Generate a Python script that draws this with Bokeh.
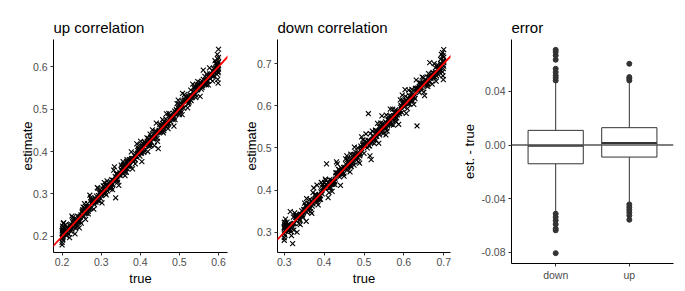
from bokeh.plotting import figure
from bokeh.layouts import row
from bokeh.models import Range1d, FixedTicker, NumeralTickFormatter, Slope, Span, ColumnDataSource
from bokeh.embed import file_html
from bokeh.resources import INLINE

# ---------------- data: up correlation ----------------
up_true = [0.203, 0.217, 0.209, 0.212, 0.201, 0.219, 0.206, 0.214, 0.210, 0.204,
           0.235, 0.222, 0.231, 0.227, 0.238, 0.225, 0.233, 0.220, 0.236, 0.228,
           0.243, 0.257, 0.249, 0.252, 0.241, 0.259, 0.246, 0.254, 0.250, 0.244,
           0.275, 0.262, 0.271, 0.267, 0.278, 0.265, 0.273, 0.260, 0.276, 0.268,
           0.283, 0.297, 0.289, 0.292, 0.281, 0.299, 0.286, 0.294, 0.290, 0.284,
           0.315, 0.302, 0.311, 0.307, 0.318, 0.305, 0.313, 0.300, 0.316, 0.308,
           0.323, 0.337, 0.329, 0.332, 0.321, 0.339, 0.326, 0.334, 0.330, 0.324,
           0.355, 0.342, 0.351, 0.347, 0.358, 0.345, 0.353, 0.340, 0.356, 0.348,
           0.363, 0.377, 0.369, 0.372, 0.361, 0.379, 0.366, 0.374, 0.370, 0.364,
           0.395, 0.382, 0.391, 0.387, 0.398, 0.385, 0.393, 0.380, 0.396, 0.388,
           0.403, 0.417, 0.409, 0.412, 0.401, 0.419, 0.406, 0.414, 0.410, 0.404,
           0.435, 0.422, 0.431, 0.427, 0.438, 0.425, 0.433, 0.420, 0.436, 0.428,
           0.443, 0.457, 0.449, 0.452, 0.441, 0.459, 0.446, 0.454, 0.450, 0.444,
           0.475, 0.462, 0.471, 0.467, 0.478, 0.465, 0.473, 0.460, 0.476, 0.468,
           0.483, 0.497, 0.489, 0.492, 0.481, 0.499, 0.486, 0.494, 0.490, 0.484,
           0.515, 0.502, 0.511, 0.507, 0.518, 0.505, 0.513, 0.500, 0.516, 0.508,
           0.523, 0.537, 0.529, 0.532, 0.521, 0.539, 0.526, 0.534, 0.530, 0.524,
           0.555, 0.542, 0.551, 0.547, 0.558, 0.545, 0.553, 0.540, 0.556, 0.548,
           0.563, 0.577, 0.569, 0.572, 0.561, 0.579, 0.566, 0.574, 0.570, 0.564,
           0.595, 0.582, 0.591, 0.587, 0.598, 0.585, 0.593, 0.580, 0.596, 0.588,
           0.600, 0.599, 0.600, 0.598, 0.600, 0.597, 0.600, 0.599, 0.600, 0.598,
           0.200, 0.201, 0.200, 0.202, 0.200, 0.201, 0.203, 0.200, 0.202, 0.201,
           0.208, 0.201, 0.213, 0.219, 0.205, 0.211, 0.216, 0.203, 0.207, 0.218,
           0.228, 0.221, 0.233, 0.239, 0.225, 0.231, 0.236, 0.223, 0.227, 0.238,
           0.248, 0.241, 0.253, 0.259, 0.245, 0.251, 0.256, 0.243, 0.247, 0.258,
           0.268, 0.261, 0.273, 0.279, 0.265, 0.271, 0.276, 0.263, 0.267, 0.278,
           0.288, 0.281, 0.293, 0.299, 0.285, 0.291, 0.296, 0.283, 0.287, 0.298,
           0.308, 0.301, 0.313, 0.319, 0.305, 0.311, 0.316, 0.303, 0.307, 0.318,
           0.328, 0.321, 0.333, 0.339, 0.325, 0.331, 0.336, 0.323, 0.327, 0.338,
           0.348, 0.341, 0.353, 0.359, 0.345, 0.351, 0.356, 0.343, 0.347, 0.358,
           0.368, 0.361, 0.373, 0.379, 0.365, 0.371, 0.376, 0.363, 0.367, 0.378,
           0.388, 0.381, 0.393, 0.399, 0.385, 0.391, 0.396, 0.383, 0.387, 0.398,
           0.408, 0.401, 0.413, 0.419, 0.405, 0.411, 0.416, 0.403, 0.407, 0.418,
           0.428, 0.421, 0.433, 0.439, 0.425, 0.431, 0.436, 0.423, 0.427, 0.438,
           0.448, 0.441, 0.453, 0.459, 0.445, 0.451, 0.456, 0.443, 0.447, 0.458,
           0.468, 0.461, 0.473, 0.479, 0.465, 0.471, 0.476, 0.463, 0.467, 0.478,
           0.488, 0.481, 0.493, 0.499, 0.485, 0.491, 0.496, 0.483, 0.487, 0.498,
           0.508, 0.501, 0.513, 0.519, 0.505, 0.511, 0.516, 0.503, 0.507, 0.518,
           0.528, 0.521, 0.533, 0.539, 0.525, 0.531, 0.536, 0.523, 0.527, 0.538,
           0.548, 0.541, 0.553, 0.559, 0.545, 0.551, 0.556, 0.543, 0.547, 0.558,
           0.568, 0.561, 0.573, 0.579, 0.565, 0.571, 0.576, 0.563, 0.567, 0.578,
           0.588, 0.581, 0.593, 0.599, 0.585, 0.591, 0.596, 0.583, 0.587, 0.598]
up_est = [0.207, 0.205, 0.228, 0.209, 0.210, 0.197, 0.220, 0.208, 0.211, 0.232,
          0.219, 0.229, 0.229, 0.244, 0.229, 0.248, 0.206, 0.225, 0.223, 0.239,
          0.242, 0.277, 0.231, 0.260, 0.236, 0.262, 0.236, 0.269, 0.250, 0.220,
          0.287, 0.255, 0.297, 0.253, 0.284, 0.264, 0.291, 0.240, 0.286, 0.270,
          0.275, 0.310, 0.285, 0.313, 0.264, 0.306, 0.286, 0.283, 0.315, 0.281,
          0.331, 0.279, 0.320, 0.301, 0.321, 0.319, 0.298, 0.301, 0.307, 0.327,
          0.321, 0.291, 0.310, 0.356, 0.316, 0.347, 0.314, 0.364, 0.323, 0.328,
          0.361, 0.328, 0.368, 0.346, 0.370, 0.320, 0.355, 0.332, 0.376, 0.344,
          0.353, 0.399, 0.366, 0.381, 0.343, 0.384, 0.381, 0.368, 0.370, 0.351,
          0.408, 0.377, 0.418, 0.371, 0.405, 0.383, 0.403, 0.359, 0.414, 0.389,
          0.396, 0.432, 0.398, 0.416, 0.424, 0.400, 0.412, 0.413, 0.422, 0.376,
          0.437, 0.413, 0.451, 0.414, 0.446, 0.441, 0.429, 0.431, 0.414, 0.433,
          0.431, 0.475, 0.449, 0.446, 0.467, 0.444, 0.407, 0.451, 0.464, 0.424,
          0.485, 0.461, 0.454, 0.489, 0.470, 0.468, 0.490, 0.449, 0.482, 0.463,
          0.479, 0.521, 0.475, 0.499, 0.479, 0.511, 0.460, 0.513, 0.491, 0.475,
          0.530, 0.496, 0.519, 0.487, 0.529, 0.502, 0.534, 0.487, 0.520, 0.537,
          0.514, 0.540, 0.545, 0.527, 0.503, 0.552, 0.525, 0.559, 0.520, 0.530,
          0.562, 0.527, 0.553, 0.565, 0.551, 0.555, 0.530, 0.554, 0.554, 0.557,
          0.560, 0.597, 0.557, 0.577, 0.592, 0.571, 0.567, 0.557, 0.582, 0.558,
          0.606, 0.578, 0.614, 0.577, 0.604, 0.566, 0.608, 0.580, 0.582, 0.596,
          0.641, 0.586, 0.622, 0.570, 0.611, 0.629, 0.594, 0.561, 0.603, 0.618,
          0.186, 0.224, 0.197, 0.215, 0.180, 0.207, 0.231, 0.213, 0.192, 0.219,
          0.211, 0.196, 0.221, 0.218, 0.211, 0.202, 0.218, 0.199, 0.218, 0.218,
          0.222, 0.225, 0.231, 0.248, 0.217, 0.232, 0.241, 0.212, 0.234, 0.235,
          0.250, 0.234, 0.263, 0.255, 0.245, 0.257, 0.247, 0.246, 0.246, 0.266,
          0.265, 0.270, 0.267, 0.280, 0.277, 0.266, 0.280, 0.261, 0.259, 0.283,
          0.295, 0.280, 0.296, 0.289, 0.290, 0.287, 0.304, 0.283, 0.281, 0.300,
          0.311, 0.296, 0.321, 0.318, 0.311, 0.302, 0.318, 0.299, 0.318, 0.318,
          0.322, 0.325, 0.331, 0.348, 0.317, 0.332, 0.341, 0.312, 0.334, 0.335,
          0.350, 0.334, 0.363, 0.355, 0.345, 0.357, 0.347, 0.346, 0.346, 0.366,
          0.365, 0.370, 0.367, 0.380, 0.377, 0.366, 0.380, 0.361, 0.359, 0.383,
          0.395, 0.380, 0.396, 0.389, 0.390, 0.387, 0.404, 0.383, 0.381, 0.400,
          0.411, 0.396, 0.421, 0.418, 0.411, 0.402, 0.418, 0.399, 0.418, 0.418,
          0.422, 0.425, 0.431, 0.448, 0.417, 0.432, 0.441, 0.412, 0.434, 0.435,
          0.450, 0.434, 0.463, 0.455, 0.445, 0.457, 0.447, 0.446, 0.446, 0.466,
          0.465, 0.470, 0.467, 0.480, 0.477, 0.466, 0.480, 0.461, 0.459, 0.483,
          0.495, 0.480, 0.496, 0.489, 0.490, 0.487, 0.504, 0.483, 0.481, 0.500,
          0.511, 0.496, 0.521, 0.518, 0.511, 0.502, 0.518, 0.499, 0.518, 0.518,
          0.522, 0.525, 0.531, 0.548, 0.517, 0.532, 0.541, 0.512, 0.534, 0.535,
          0.550, 0.534, 0.563, 0.555, 0.545, 0.557, 0.547, 0.546, 0.546, 0.566,
          0.565, 0.570, 0.567, 0.580, 0.577, 0.566, 0.580, 0.561, 0.559, 0.583,
          0.595, 0.580, 0.596, 0.589, 0.590, 0.587, 0.604, 0.583, 0.581, 0.600]

# ---------------- data: down correlation ----------------
down_true = [0.315, 0.302, 0.311, 0.307, 0.318, 0.305, 0.313, 0.300, 0.316, 0.308,
             0.323, 0.337, 0.329, 0.332, 0.321, 0.339, 0.326, 0.334, 0.330, 0.324,
             0.355, 0.342, 0.351, 0.347, 0.358, 0.345, 0.353, 0.340, 0.356, 0.348,
             0.363, 0.377, 0.369, 0.372, 0.361, 0.379, 0.366, 0.374, 0.370, 0.364,
             0.395, 0.382, 0.391, 0.387, 0.398, 0.385, 0.393, 0.380, 0.396, 0.388,
             0.403, 0.417, 0.409, 0.412, 0.401, 0.419, 0.406, 0.414, 0.410, 0.404,
             0.435, 0.422, 0.431, 0.427, 0.438, 0.425, 0.433, 0.420, 0.436, 0.428,
             0.443, 0.457, 0.449, 0.452, 0.441, 0.459, 0.446, 0.454, 0.450, 0.444,
             0.475, 0.462, 0.471, 0.467, 0.478, 0.465, 0.473, 0.460, 0.476, 0.468,
             0.483, 0.497, 0.489, 0.492, 0.481, 0.499, 0.486, 0.494, 0.490, 0.484,
             0.515, 0.502, 0.511, 0.507, 0.518, 0.505, 0.513, 0.500, 0.516, 0.508,
             0.523, 0.537, 0.529, 0.532, 0.521, 0.539, 0.526, 0.534, 0.530, 0.524,
             0.555, 0.542, 0.551, 0.547, 0.558, 0.545, 0.553, 0.540, 0.556, 0.548,
             0.563, 0.577, 0.569, 0.572, 0.561, 0.579, 0.566, 0.574, 0.570, 0.564,
             0.595, 0.582, 0.591, 0.587, 0.598, 0.585, 0.593, 0.580, 0.596, 0.588,
             0.603, 0.617, 0.609, 0.612, 0.601, 0.619, 0.606, 0.614, 0.610, 0.604,
             0.635, 0.622, 0.631, 0.627, 0.638, 0.625, 0.633, 0.620, 0.636, 0.628,
             0.643, 0.657, 0.649, 0.652, 0.641, 0.659, 0.646, 0.654, 0.650, 0.644,
             0.675, 0.662, 0.671, 0.667, 0.678, 0.665, 0.673, 0.660, 0.676, 0.668,
             0.683, 0.697, 0.689, 0.692, 0.681, 0.699, 0.686, 0.694, 0.690, 0.684,
             0.700, 0.699, 0.700, 0.698, 0.700, 0.697, 0.700, 0.699, 0.700, 0.698,
             0.300, 0.301, 0.300, 0.302, 0.300, 0.301, 0.303, 0.300, 0.302, 0.301,
             0.304, 0.312, 0.300, 0.317, 0.309, 0.306, 0.314, 0.302, 0.319, 0.310,
             0.324, 0.332, 0.320, 0.337, 0.329, 0.326, 0.334, 0.322, 0.339, 0.330,
             0.344, 0.352, 0.340, 0.357, 0.349, 0.346, 0.354, 0.342, 0.359, 0.350,
             0.364, 0.372, 0.360, 0.377, 0.369, 0.366, 0.374, 0.362, 0.379, 0.370,
             0.384, 0.392, 0.380, 0.397, 0.389, 0.386, 0.394, 0.382, 0.399, 0.390,
             0.404, 0.412, 0.400, 0.417, 0.409, 0.406, 0.414, 0.402, 0.419, 0.410,
             0.424, 0.432, 0.420, 0.437, 0.429, 0.426, 0.434, 0.422, 0.439, 0.430,
             0.444, 0.452, 0.440, 0.457, 0.449, 0.446, 0.454, 0.442, 0.459, 0.450,
             0.464, 0.472, 0.460, 0.477, 0.469, 0.466, 0.474, 0.462, 0.479, 0.470,
             0.484, 0.492, 0.480, 0.497, 0.489, 0.486, 0.494, 0.482, 0.499, 0.490,
             0.504, 0.512, 0.500, 0.517, 0.509, 0.506, 0.514, 0.502, 0.519, 0.510,
             0.524, 0.532, 0.520, 0.537, 0.529, 0.526, 0.534, 0.522, 0.539, 0.530,
             0.544, 0.552, 0.540, 0.557, 0.549, 0.546, 0.554, 0.542, 0.559, 0.550,
             0.564, 0.572, 0.560, 0.577, 0.569, 0.566, 0.574, 0.562, 0.579, 0.570,
             0.584, 0.592, 0.580, 0.597, 0.589, 0.586, 0.594, 0.582, 0.599, 0.590,
             0.604, 0.612, 0.600, 0.617, 0.609, 0.606, 0.614, 0.602, 0.619, 0.610,
             0.624, 0.632, 0.620, 0.637, 0.629, 0.626, 0.634, 0.622, 0.639, 0.630,
             0.644, 0.652, 0.640, 0.657, 0.649, 0.646, 0.654, 0.642, 0.659, 0.650,
             0.664, 0.672, 0.660, 0.677, 0.669, 0.666, 0.674, 0.662, 0.679, 0.670,
             0.684, 0.692, 0.680, 0.697, 0.689, 0.686, 0.694, 0.682, 0.699, 0.690]
down_est = [0.349, 0.303, 0.304, 0.324, 0.292, 0.316, 0.309, 0.323, 0.302, 0.313,
            0.336, 0.321, 0.335, 0.300, 0.273, 0.328, 0.346, 0.332, 0.338, 0.305,
            0.326, 0.342, 0.369, 0.335, 0.362, 0.339, 0.363, 0.318, 0.380, 0.347,
            0.365, 0.389, 0.345, 0.394, 0.360, 0.386, 0.349, 0.405, 0.362, 0.378,
            0.391, 0.412, 0.378, 0.387, 0.406, 0.365, 0.418, 0.375, 0.412, 0.378,
            0.426, 0.406, 0.410, 0.394, 0.418, 0.423, 0.462, 0.425, 0.382, 0.423,
            0.440, 0.414, 0.467, 0.413, 0.448, 0.419, 0.462, 0.397, 0.449, 0.426,
            0.438, 0.481, 0.439, 0.454, 0.411, 0.473, 0.445, 0.474, 0.433, 0.451,
            0.459, 0.462, 0.464, 0.485, 0.484, 0.443, 0.484, 0.456, 0.502, 0.456,
            0.484, 0.519, 0.464, 0.504, 0.479, 0.507, 0.467, 0.526, 0.484, 0.500,
            0.481, 0.516, 0.581, 0.514, 0.472, 0.533, 0.518, 0.487, 0.534, 0.500,
            0.529, 0.511, 0.542, 0.527, 0.540, 0.549, 0.510, 0.558, 0.519, 0.526,
            0.531, 0.559, 0.547, 0.558, 0.540, 0.576, 0.546, 0.540, 0.578, 0.534,
            0.557, 0.584, 0.556, 0.592, 0.565, 0.569, 0.592, 0.554, 0.569, 0.576,
            0.584, 0.583, 0.614, 0.556, 0.612, 0.583, 0.601, 0.563, 0.625, 0.583,
            0.638, 0.622, 0.593, 0.637, 0.597, 0.632, 0.582, 0.624, 0.603, 0.622,
            0.642, 0.610, 0.661, 0.626, 0.654, 0.603, 0.552, 0.639, 0.640, 0.617,
            0.654, 0.655, 0.666, 0.624, 0.653, 0.651, 0.668, 0.656, 0.632, 0.652,
            0.668, 0.676, 0.651, 0.668, 0.668, 0.702, 0.679, 0.646, 0.700, 0.664,
            0.693, 0.680, 0.689, 0.710, 0.658, 0.706, 0.674, 0.722, 0.685, 0.697,
            0.733, 0.688, 0.715, 0.671, 0.706, 0.726, 0.694, 0.662, 0.702, 0.719,
            0.287, 0.324, 0.296, 0.315, 0.281, 0.309, 0.331, 0.312, 0.293, 0.318,
            0.306, 0.305, 0.310, 0.313, 0.309, 0.312, 0.305, 0.305, 0.318, 0.318,
            0.321, 0.341, 0.314, 0.338, 0.341, 0.321, 0.338, 0.320, 0.331, 0.335,
            0.351, 0.351, 0.343, 0.347, 0.354, 0.342, 0.362, 0.342, 0.353, 0.352,
            0.367, 0.367, 0.368, 0.376, 0.375, 0.357, 0.376, 0.358, 0.390, 0.370,
            0.378, 0.396, 0.378, 0.406, 0.381, 0.387, 0.399, 0.371, 0.406, 0.387,
            0.406, 0.405, 0.410, 0.413, 0.409, 0.412, 0.405, 0.405, 0.418, 0.418,
            0.421, 0.441, 0.414, 0.438, 0.441, 0.421, 0.438, 0.420, 0.431, 0.435,
            0.451, 0.451, 0.443, 0.447, 0.454, 0.442, 0.462, 0.442, 0.453, 0.452,
            0.467, 0.467, 0.468, 0.476, 0.475, 0.457, 0.476, 0.458, 0.490, 0.470,
            0.478, 0.496, 0.478, 0.506, 0.481, 0.487, 0.499, 0.471, 0.506, 0.487,
            0.506, 0.505, 0.510, 0.513, 0.509, 0.512, 0.505, 0.505, 0.518, 0.518,
            0.521, 0.541, 0.514, 0.538, 0.541, 0.521, 0.538, 0.520, 0.531, 0.535,
            0.551, 0.551, 0.543, 0.547, 0.554, 0.542, 0.562, 0.542, 0.553, 0.552,
            0.567, 0.567, 0.568, 0.576, 0.575, 0.557, 0.576, 0.558, 0.590, 0.570,
            0.578, 0.596, 0.578, 0.606, 0.581, 0.587, 0.599, 0.571, 0.606, 0.587,
            0.606, 0.605, 0.610, 0.613, 0.609, 0.612, 0.605, 0.605, 0.618, 0.618,
            0.621, 0.641, 0.614, 0.638, 0.641, 0.621, 0.638, 0.620, 0.631, 0.635,
            0.651, 0.651, 0.643, 0.647, 0.654, 0.642, 0.662, 0.642, 0.653, 0.652,
            0.667, 0.667, 0.668, 0.676, 0.675, 0.657, 0.676, 0.658, 0.690, 0.670,
            0.678, 0.696, 0.678, 0.706, 0.681, 0.687, 0.699, 0.671, 0.706, 0.687]

up_ticks = [0.2, 0.3, 0.4, 0.5, 0.6]
down_ticks = [0.3, 0.4, 0.5, 0.6, 0.7]
err_ticks = [-0.08, -0.04, 0.0, 0.04]

# ---------------- data: error boxplot ----------------
box_cats = ["down", "up"]
box_q1 = [-0.0139, -0.0089]
box_med = [-0.0005, 0.0015]
box_q3 = [0.0110, 0.0130]
box_lower = [-0.0499, -0.0437]
box_upper = [0.0475, 0.0475]
out_down = [0.0710, 0.0693, 0.0668, 0.0636, 0.0569, 0.0544, 0.0519, 0.0502, 0.0482,
            -0.0511, -0.0536, -0.0561, -0.0590, -0.0623, -0.0635, -0.0805]
out_up = [0.0606, 0.0507, 0.0495, 0.0482,
          -0.0442, -0.0462, -0.0481, -0.0501, -0.0524, -0.0556]

FONT = "Liberation Sans"


def style(p, xlab, ylab, ylab_standoff):
    p.outline_line_color = None
    p.background_fill_color = "white"
    p.border_fill_color = "white"
    p.xgrid.visible = False
    p.ygrid.visible = False
    p.title.text_font = FONT
    p.title.text_font_size = "15px"
    p.title.text_font_style = "normal"
    p.title.text_color = "black"
    p.title.align = "left"
    p.title.standoff = 7
    for ax in (p.xaxis[0], p.yaxis[0]):
        ax.axis_line_color = "black"
        ax.axis_line_width = 1
        ax.major_tick_line_color = "#333333"
        ax.major_tick_out = 3
        ax.major_tick_in = 0
        ax.minor_tick_line_color = None
        ax.major_label_text_font = FONT
        ax.major_label_text_font_size = "10.5px"
        ax.major_label_text_color = "#4D4D4D"
        ax.major_label_standoff = 3
        ax.axis_label_text_font = FONT
        ax.axis_label_text_font_size = "13px"
        ax.axis_label_text_font_style = "normal"
        ax.axis_label_text_color = "black"
    p.xaxis[0].major_label_standoff = 2
    p.xaxis[0].axis_label_standoff = 2
    p.yaxis[0].axis_label_standoff = ylab_standoff
    p.xaxis[0].axis_label = xlab
    p.yaxis[0].axis_label = ylab


def scatter_panel(title, xs, ys, ticks, xr, yr, fw, bl, br):
    p = figure(frame_width=fw, frame_height=213, title=title, output_backend="svg",
               toolbar_location=None, x_range=Range1d(*xr), y_range=Range1d(*yr),
               min_border_left=bl, min_border_right=br, min_border_top=39,
               min_border_bottom=10)
    style(p, "true", "estimate", -5)
    p.scatter(x=xs, y=ys, marker="x", size=7, line_color="black", line_width=1.1)
    p.add_layout(Slope(gradient=1, y_intercept=0, line_color="red", line_width=1.8))
    p.xaxis[0].ticker = FixedTicker(ticks=ticks)
    p.yaxis[0].ticker = FixedTicker(ticks=ticks)
    p.xaxis[0].formatter = NumeralTickFormatter(format="0.0")
    p.yaxis[0].formatter = NumeralTickFormatter(format="0.0")
    return p


p1 = scatter_panel("up correlation", up_true, up_est, up_ticks,
                   (0.178, 0.623), (0.162, 0.664), 174, 53, 3)
p2 = scatter_panel("down correlation", down_true, down_est, down_ticks,
                   (0.283, 0.717), (0.252, 0.757), 173, 47, 3)

# ---------------- boxplot panel ----------------
pos = [i + 1 for i in range(len(box_cats))]
half = 0.375
p3 = figure(frame_width=162, frame_height=224, title="error", output_backend="svg",
            toolbar_location=None, x_range=Range1d(0.4, len(box_cats) + 0.6),
            y_range=Range1d(-0.0882, 0.0787),
            min_border_left=58, min_border_right=4, min_border_top=39,
            min_border_bottom=10)
style(p3, "", "est. - true", 2)
p3.xaxis[0].axis_label = None
p3.add_layout(Span(location=0, dimension="width", line_color="#555555", line_width=1.5))

src = ColumnDataSource(dict(x=pos, q1=box_q1, med=box_med, q3=box_q3,
                            lo=box_lower, hi=box_upper,
                            xl=[v - half for v in pos], xr=[v + half for v in pos]))
p3.segment(x0="x", y0="q3", x1="x", y1="hi", source=src, line_color="#333333", line_width=1)
p3.segment(x0="x", y0="q1", x1="x", y1="lo", source=src, line_color="#333333", line_width=1)
p3.vbar(x="x", bottom="q1", top="q3", width=2 * half, source=src,
        fill_color="white", line_color="#333333", line_width=1)
p3.segment(x0="xl", y0="med", x1="xr", y1="med", source=src, line_color="#333333", line_width=2)

ox = [pos[0]] * len(out_down) + [pos[1]] * len(out_up)
oy = out_down + out_up
p3.scatter(x=ox, y=oy, marker="circle", size=5, fill_color="#333333", line_color="#333333")

p3.xaxis[0].ticker = FixedTicker(ticks=pos)
p3.xaxis[0].major_label_overrides = {v: c for v, c in zip(pos, box_cats)}
p3.yaxis[0].ticker = FixedTicker(ticks=err_ticks)
p3.yaxis[0].formatter = NumeralTickFormatter(format="0.00")

layout = row(p1, p2, p3, spacing=0)
open("out.html", "w").write(file_html(layout, INLINE))
